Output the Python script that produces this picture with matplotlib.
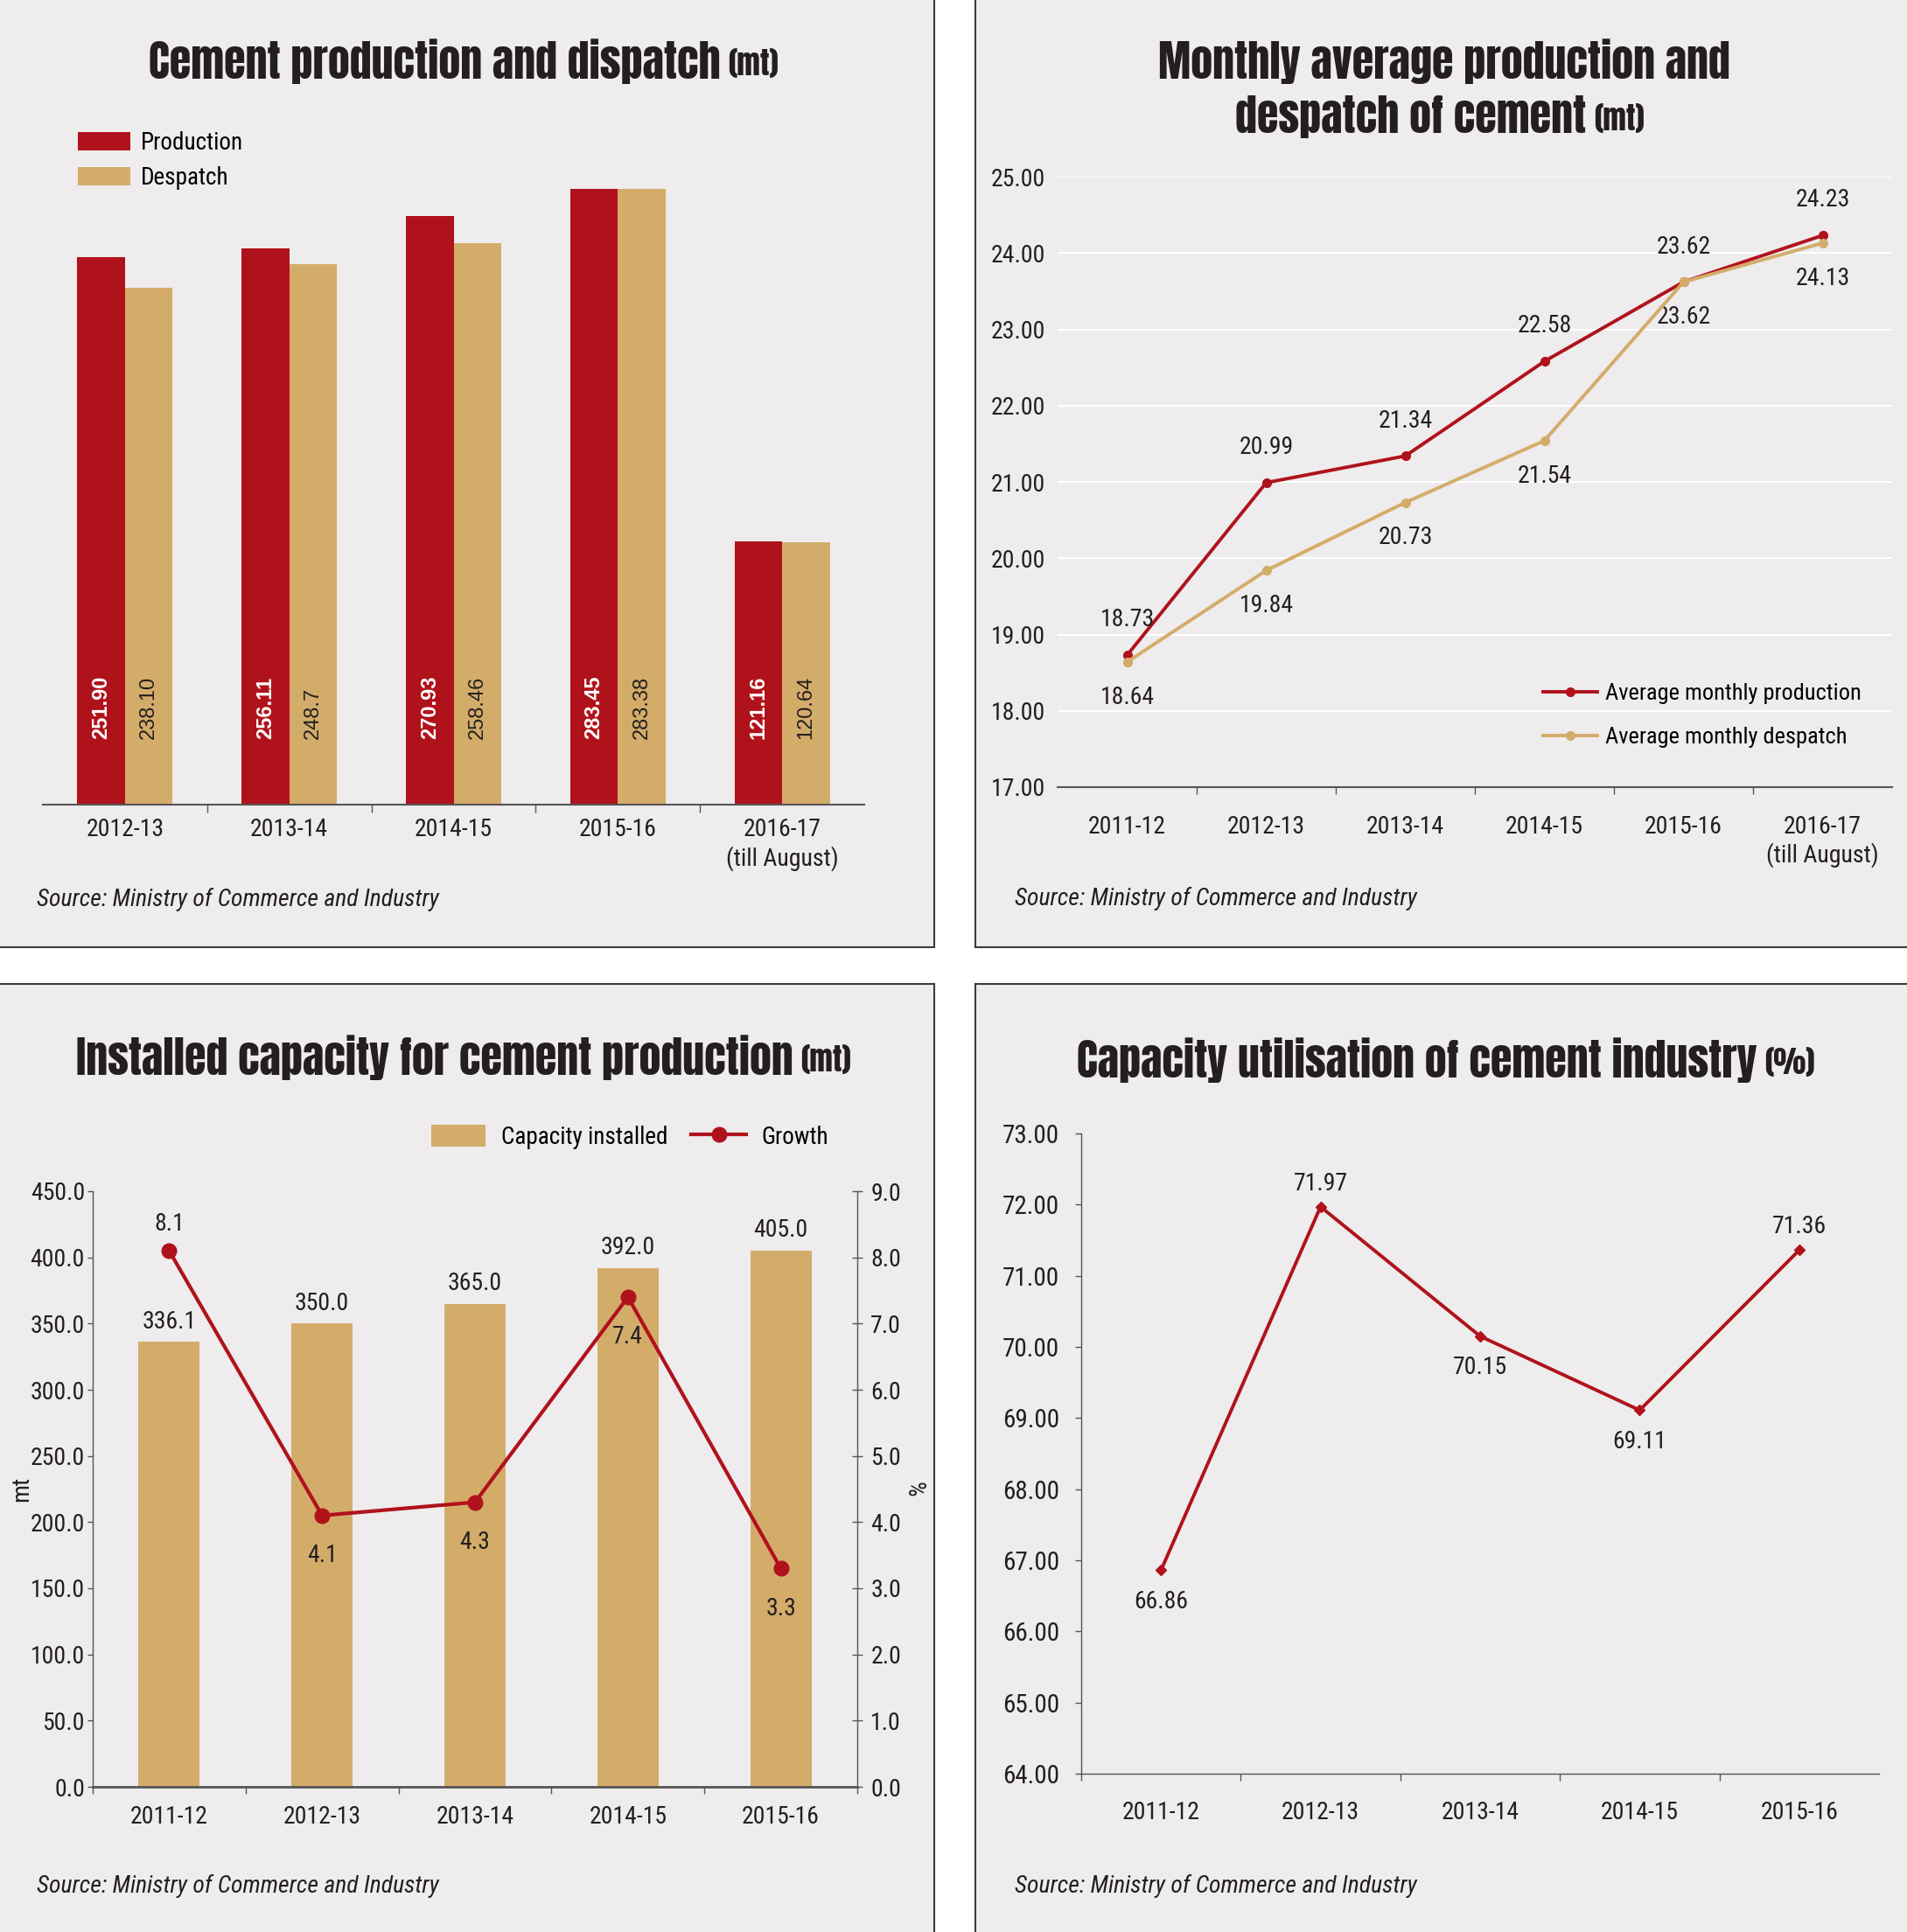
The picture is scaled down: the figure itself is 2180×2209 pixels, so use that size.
import numpy as np
import matplotlib
matplotlib.use('Agg')
import matplotlib.pyplot as plt
from matplotlib import font_manager
from matplotlib.patches import Rectangle
from matplotlib.lines import Line2D

# ---- data ----
prod_years = ['2012-13', '2013-14', '2014-15', '2015-16', '2016-17\n(till August)']
production = [251.90, 256.11, 270.93, 283.45, 121.16]
despatch = [238.10, 248.7, 258.46, 283.38, 120.64]
production_txt = ['251.90', '256.11', '270.93', '283.45', '121.16']
despatch_txt = ['238.10', '248.7', '258.46', '283.38', '120.64']

month_years = ['2011-12', '2012-13', '2013-14', '2014-15', '2015-16', '2016-17\n(till August)']
month_prod = [18.73, 20.99, 21.34, 22.58, 23.62, 24.23]
month_desp = [18.64, 19.84, 20.73, 21.54, 23.62, 24.13]

cap_years = ['2011-12', '2012-13', '2013-14', '2014-15', '2015-16']
capacity = [336.1, 350.0, 365.0, 392.0, 405.0]
growth = [8.1, 4.1, 4.3, 7.4, 3.3]
growth_above = [True, False, False, False, False]

util_years = ['2011-12', '2012-13', '2013-14', '2014-15', '2015-16']
utilisation = [66.86, 71.97, 70.15, 69.11, 71.36]
util_above = [False, True, False, False, True]

# ---- style ----
RED = '#B0121B'
TAN = '#D4AC6A'
INK = '#231F20'
PANEL = '#EEECED'
EDGE = '#3C3C3C'
AXIS = '#555555'

names = {f.name for f in font_manager.fontManager.ttflist}


def pick(*cands):
    for c in cands:
        if c in names:
            return c
    return 'DejaVu Sans'


NARROW = pick('Roboto Condensed', 'Archivo Narrow', 'Liberation Sans Narrow', 'Liberation Sans')
ARIAL = pick('Liberation Sans', 'Arimo', 'DejaVu Sans')
HEAVY = pick('Anton', 'League Gothic', 'Oswald', 'Fjalla One', 'Francois One', NARROW)
HEAVY_W = 'normal' if HEAVY in ('Anton', 'League Gothic', 'Fjalla One', 'Francois One') else 'bold'

W, H = 2180, 2209
fig = plt.figure(figsize=(W / 100, H / 100), dpi=100, facecolor='white')


def fx(px):
    return px / W


def fy(py):
    return 1 - py / H


def axes_px(left, top, right, bottom):
    return fig.add_axes([fx(left), fy(bottom), (right - left) / W, (bottom - top) / H])


# panels
panels = [(0, 0, 1068, 1083), (1115, 0, 2180, 1083), (0, 1125, 1068, 2209), (1115, 1125, 2180, 2209)]
for l, t, r, b in panels:
    fig.patches.append(Rectangle((fx(l), fy(b)), (r - l) / W, (b - t) / H,
                                 transform=fig.transFigure, facecolor=PANEL, edgecolor='none', zorder=-5))
for xs, ys in [((1068, 1068), (0, 1083)), ((0, 1068), (1083, 1083)),
               ((1115, 1115), (0, 1083)), ((1115, 2180), (1083, 1083)),
               ((0, 1068), (1125, 1125)), ((1068, 1068), (1125, 2209)),
               ((1115, 2180), (1125, 1125)), ((1115, 1115), (1125, 2209))]:
    fig.add_artist(Line2D([fx(v) for v in xs], [fy(v) for v in ys], color=EDGE, lw=1.5))


def title(ax, cx, cy, main, suffix, size):
    t = fig.text(fx(cx), fy(cy), main, ha='center', va='center', fontsize=size,
                 fontweight=HEAVY_W, family=HEAVY, color=INK)
    if suffix:
        ax.annotate(suffix, xy=(1, 0.12), xycoords=t, xytext=(6, 0), textcoords='offset points',
                    ha='left', va='bottom', fontsize=size * 0.7, fontweight=HEAVY_W,
                    family=HEAVY, color=INK, annotation_clip=False)


def source(x, y):
    fig.text(fx(x), fy(y), 'Source: Ministry of Commerce and Industry', ha='left', va='center',
             fontsize=20, style='italic', family=NARROW, color=INK)


def base_style(ax):
    ax.set_facecolor('none')
    for s in ax.spines.values():
        s.set_visible(False)


# ---------- top left: production & despatch ----------
ax1 = axes_px(49, 175, 988, 920)
base_style(ax1)
x = np.arange(len(prod_years))
bw = 0.29
ax1.bar(x - bw / 2, production, bw, color=RED, label='Production')
ax1.bar(x + bw / 2, despatch, bw, color=TAN, label='Despatch')
ax1.set_xlim(-0.5, len(prod_years) - 0.5)
ax1.set_ylim(0, 300)
ax1.set_yticks([])
ax1.spines['bottom'].set_visible(True)
ax1.spines['bottom'].set_color(AXIS)
ax1.spines['bottom'].set_linewidth(1.5)
ax1.set_xticks(x)
ax1.set_xticklabels(prod_years, family=NARROW, fontsize=20, color=INK)
ax1.tick_params(axis='x', which='major', length=0, pad=11)
ax1.set_xticks(x[:-1] + 0.5, minor=True)
ax1.tick_params(axis='x', which='minor', length=6.5, width=1, color=AXIS, direction='out')
for xi, t1, t2 in zip(x, production_txt, despatch_txt):
    ax1.annotate(t1, xy=(xi - bw / 2, 0), xytext=(0, 54), textcoords='offset points', rotation=90,
                 ha='center', va='bottom', color='white', fontweight='bold', fontsize=17, family=ARIAL)
    ax1.annotate(t2, xy=(xi + bw / 2, 0), xytext=(0, 54), textcoords='offset points', rotation=90,
                 ha='center', va='bottom', color=INK, fontsize=17, family=ARIAL)
ax1.legend(loc='upper left', bbox_to_anchor=(fx(89), fy(150)), bbox_transform=fig.transFigure,
           frameon=False, borderpad=0, borderaxespad=0, handlelength=2.2, handleheight=0.83,
           handletextpad=0.47, labelspacing=0.47, prop={'family': NARROW, 'size': 19.5})
title(ax1, 497, 70, 'Cement production and dispatch', '(mt)', 36)
source(42, 1028)

# ---------- top right: monthly average ----------
ax2 = axes_px(1209, 202, 2163, 900)
base_style(ax2)
x = np.arange(len(month_years))
ax2.set_xlim(-0.5, len(month_years) - 0.5)
ax2.set_ylim(17, 25)
ax2.set_yticks(np.arange(17, 25.5, 1))
ax2.set_yticklabels(['%.2f' % v for v in np.arange(17, 25.5, 1)], family=NARROW, fontsize=20, color=INK)
ax2.tick_params(axis='y', length=0, pad=10)
for v in np.arange(18, 25.5, 1):
    ax2.axhline(v, color='white', lw=1.5, zorder=0)
ax2.spines['bottom'].set_visible(True)
ax2.spines['bottom'].set_color(AXIS)
ax2.spines['bottom'].set_linewidth(1.5)
ax2.set_xticks(x)
ax2.set_xticklabels(month_years, family=NARROW, fontsize=20, color=INK)
ax2.tick_params(axis='x', which='major', length=0, pad=23)
ax2.set_xticks(x[:-1] + 0.5, minor=True)
ax2.tick_params(axis='x', which='minor', length=6, width=1, color=AXIS, direction='out')
ax2.plot(x, month_prod, color=RED, lw=2.8, marker='o', ms=7, label='Average monthly production', zorder=3)
ax2.plot(x, month_desp, color=TAN, lw=2.8, marker='o', ms=7, label='Average monthly despatch', zorder=4)
for xi, p, d in zip(x, month_prod, month_desp):
    ax2.annotate('%.2f' % p, xy=(xi, p), xytext=(0, 29), textcoords='offset points', ha='center',
                 va='center', family=NARROW, fontsize=20, color=INK)
    ax2.annotate('%.2f' % d, xy=(xi, d), xytext=(0, -29), textcoords='offset points', ha='center',
                 va='center', family=NARROW, fontsize=20, color=INK)
ax2.legend(loc='upper left', bbox_to_anchor=(fx(1764), fy(781)), bbox_transform=fig.transFigure,
           frameon=False, borderpad=0, borderaxespad=0, handlelength=2.35, handletextpad=0.35,
           labelspacing=1.0, prop={'family': NARROW, 'size': 19})
title(ax2, 1651, 70, 'Monthly average production and', None, 36)
title(ax2, 1613, 134, 'despatch of cement', '(mt)', 36)
source(1160, 1027)

# ---------- bottom left: installed capacity ----------
ax3 = axes_px(106, 1362, 980, 2043)
base_style(ax3)
x = np.arange(len(cap_years))
ax3.bar(x, capacity, 0.4, color=TAN, label='Capacity installed', zorder=2)
ax3.set_xlim(-0.5, len(cap_years) - 0.5)
ax3.set_ylim(0, 450)
ax3.set_yticks(np.arange(0, 451, 50))
ax3.set_yticklabels(['%.1f' % v for v in np.arange(0, 451, 50)], family=NARROW, fontsize=20, color=INK)
ax3.tick_params(axis='y', length=4.5, width=1, color=AXIS, pad=2)
ax3.spines['left'].set_visible(True)
ax3.spines['left'].set_color(AXIS)
ax3.spines['left'].set_linewidth(1)
ax3.spines['bottom'].set_visible(True)
ax3.spines['bottom'].set_color(AXIS)
ax3.spines['bottom'].set_linewidth(2)
ax3.set_xticks(x)
ax3.set_xticklabels(cap_years, family=NARROW, fontsize=20, color=INK)
ax3.tick_params(axis='x', which='major', length=0, pad=15)
ax3.set_xticks(np.arange(-0.5, len(cap_years), 1), minor=True)
ax3.tick_params(axis='x', which='minor', length=6, width=1, color=AXIS, direction='out')
ax3.set_ylabel('mt', family=NARROW, fontsize=20, color=INK)
ax3.yaxis.set_label_coords((38 - 106) / 874, 0.5)
for xi, c in zip(x, capacity):
    ax3.annotate('%.1f' % c, xy=(xi, c), xytext=(0, 7), textcoords='offset points', ha='center',
                 va='bottom', family=NARROW, fontsize=20, color=INK)
ax3b = ax3.twinx()
base_style(ax3b)
ax3b.spines['right'].set_visible(True)
ax3b.spines['right'].set_color(AXIS)
ax3b.spines['right'].set_linewidth(1)
ax3b.set_ylim(0, 9)
ax3b.set_yticks(np.arange(0, 9.5, 1))
ax3b.set_yticklabels(['%.1f' % v for v in np.arange(0, 9.5, 1)], family=NARROW, fontsize=20, color=INK)
ax3b.tick_params(axis='y', length=8, width=1, color=AXIS, direction='inout', pad=7)
ax3b.plot(x, growth, color=RED, lw=3, marker='o', ms=12, label='Growth', zorder=3)
for xi, g, up in zip(x, growth, growth_above):
    ax3b.annotate('%.1f' % g, xy=(xi, g), xytext=(0, 22 if up else -33), textcoords='offset points',
                  ha='center', va='center', family=NARROW, fontsize=20, color=INK)
ax3b.set_ylabel('%', family=NARROW, fontsize=20, color=INK, rotation=270)
ax3b.yaxis.set_label_coords((1058 - 106) / 874, 0.5)
h1, l1 = ax3.get_legend_handles_labels()
h2, l2 = ax3b.get_legend_handles_labels()
ax3b.legend(h1 + h2, l1 + l2, loc='upper left', bbox_to_anchor=(fx(493), fy(1286)),
            bbox_transform=fig.transFigure, ncol=2, frameon=False, borderpad=0, borderaxespad=0,
            handlelength=2.3, handleheight=1.05, handletextpad=0.65, columnspacing=1.0,
            prop={'family': NARROW, 'size': 19.5})
title(ax3, 497, 1209, 'Installed capacity for cement production', '(mt)', 36)
source(42, 2156)

# ---------- bottom right: capacity utilisation ----------
ax4 = axes_px(1236, 1296, 2148, 2028)
base_style(ax4)
x = np.arange(len(util_years))
ax4.set_xlim(-0.5, len(util_years) - 0.5)
ax4.set_ylim(64, 73)
ax4.set_yticks(np.arange(64, 73.5, 1))
ax4.set_yticklabels(['%.2f' % v for v in np.arange(64, 73.5, 1)], family=NARROW, fontsize=21, color=INK)
ax4.tick_params(axis='y', length=5, width=1, color=AXIS, pad=13)
for s in ('left', 'bottom'):
    ax4.spines[s].set_visible(True)
    ax4.spines[s].set_color(AXIS)
    ax4.spines[s].set_linewidth(1)
ax4.set_xticks(x)
ax4.set_xticklabels(util_years, family=NARROW, fontsize=20, color=INK)
ax4.tick_params(axis='x', which='major', length=0, pad=22)
ax4.set_xticks(np.arange(-0.5, len(util_years) - 1, 1), minor=True)
ax4.tick_params(axis='x', which='minor', length=6, width=1, color=AXIS, direction='out')
ax4.plot(x, utilisation, color=RED, lw=2.8, marker='D', ms=6)
for xi, u, up in zip(x, utilisation, util_above):
    ax4.annotate('%.2f' % u, xy=(xi, u), xytext=(0, 19 if up else -26), textcoords='offset points',
                 ha='center', va='center', family=NARROW, fontsize=20, color=INK)
title(ax4, 1620, 1212, 'Capacity utilisation of cement industry', '(%)', 36)
source(1160, 2156)

fig.savefig('out.png', dpi=100, facecolor='white')
